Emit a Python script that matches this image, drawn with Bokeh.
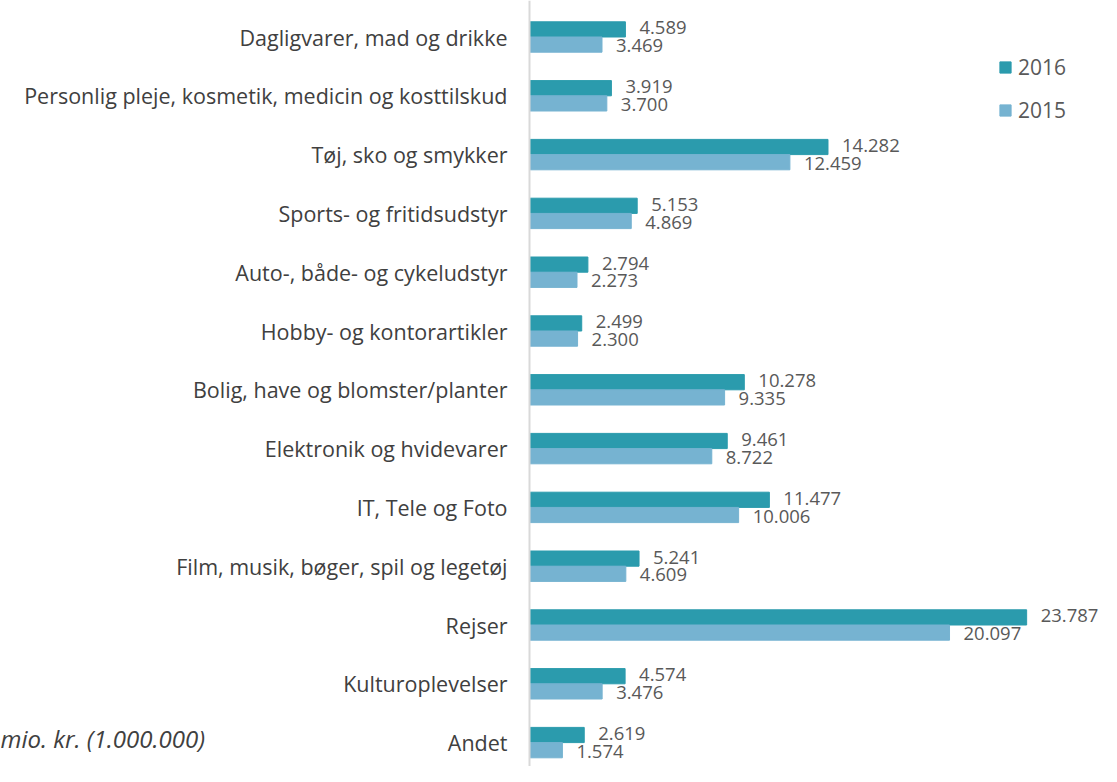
from bokeh.plotting import figure
from bokeh.models import Range1d, FixedTicker, ColumnDataSource, Legend, LegendItem, Label
from bokeh.core.properties import value
from bokeh.embed import file_html
from bokeh.resources import INLINE

categories = ["Dagligvarer, mad og drikke",
              "Personlig pleje, kosmetik, medicin og kosttilskud",
              "Tøj, sko og smykker",
              "Sports- og fritidsudstyr",
              "Auto-, både- og cykeludstyr",
              "Hobby- og kontorartikler",
              "Bolig, have og blomster/planter",
              "Elektronik og hvidevarer",
              "IT, Tele og Foto",
              "Film, musik, bøger, spil og legetøj",
              "Rejser",
              "Kulturoplevelser",
              "Andet"]
v2016 = [4589, 3919, 14282, 5153, 2794, 2499, 10278, 9461, 11477, 5241, 23787, 4574, 2619]
v2015 = [3469, 3700, 12459, 4869, 2273, 2300, 9335, 8722, 10006, 4609, 20097, 3476, 1574]
series_names = ["2016", "2015"]
unit_note = "mio. kr. (1.000.000)"

C2016 = "#2b9bad"
C2015 = "#76b3d1"
FONT = "Open Sans"

W, H = 1101, 766
LEFT = 529          # pixel of the zero line
SCALE = 0.0209      # px per unit
ROW = 58.8
top_off = 36.5
y_top = -top_off / ROW
y_bot = (H - top_off) / ROW

p = figure(width=W, height=H, output_backend="svg", toolbar_location=None,
           x_range=Range1d(-LEFT / SCALE, (W - LEFT) / SCALE),
           y_range=Range1d(y_bot, y_top),
           min_border_left=0, min_border_right=0, min_border_top=0, min_border_bottom=0,
           x_axis_location=None)
p.outline_line_color = None
p.grid.visible = False
p.background_fill_color = "white"
p.border_fill_color = "white"

idx = list(range(len(categories)))
off = 7.6 / ROW
bh = 15.2 / ROW
fmt = lambda v: f"{v:,}".replace(",", ".")

src16 = ColumnDataSource(dict(y=[i - off for i in idx], v=v2016, t=[fmt(v) for v in v2016]))
src15 = ColumnDataSource(dict(y=[i + off for i in idx], v=v2015, t=[fmt(v) for v in v2015]))

r16 = p.hbar(y="y", right="v", left=0, height=bh, source=src16, fill_color=C2016, line_color=C2016)
r15 = p.hbar(y="y", right="v", left=0, height=bh, source=src15, fill_color=C2015, line_color=C2015)

for src, yo in ((src16, -1.5), (src15, 1.0)):
    p.text(x="v", y="y", text="t", source=src, x_offset=14, y_offset=yo,
           text_font=value(FONT), text_font_size="18.5px", text_color="#595959",
           text_baseline="middle", text_align="left")

ax = p.yaxis[0]
ax.fixed_location = 0
ax.ticker = FixedTicker(ticks=idx)
ax.major_label_overrides = {i: c for i, c in zip(idx, categories)}
ax.major_tick_line_color = None
ax.minor_tick_line_color = None
ax.major_tick_out = 0
ax.major_tick_in = 0
ax.axis_line_color = "#d9d9d9"
ax.axis_line_width = 2
ax.major_label_standoff = 22
ax.major_label_text_font = FONT
ax.major_label_text_font_size = "21.5px"
ax.major_label_text_color = "#404040"

legend = Legend(items=[LegendItem(label=series_names[0], renderers=[r16]),
                       LegendItem(label=series_names[1], renderers=[r15])],
                location=(998, 642), padding=0, margin=0, spacing=15,
                glyph_width=14, glyph_height=14, label_height=28, label_standoff=6,
                label_text_font=FONT, label_text_font_size="21px", label_text_color="#595959",
                border_line_color=None, background_fill_alpha=0)
p.add_layout(legend)

note = Label(x=-LEFT / SCALE, y=12 - 4 / ROW, text=unit_note,
             text_font=FONT, text_font_style="italic", text_font_size="24px",
             text_color="#404040", text_baseline="middle")
p.add_layout(note)

open("out.html", "w").write(file_html(p, INLINE))
